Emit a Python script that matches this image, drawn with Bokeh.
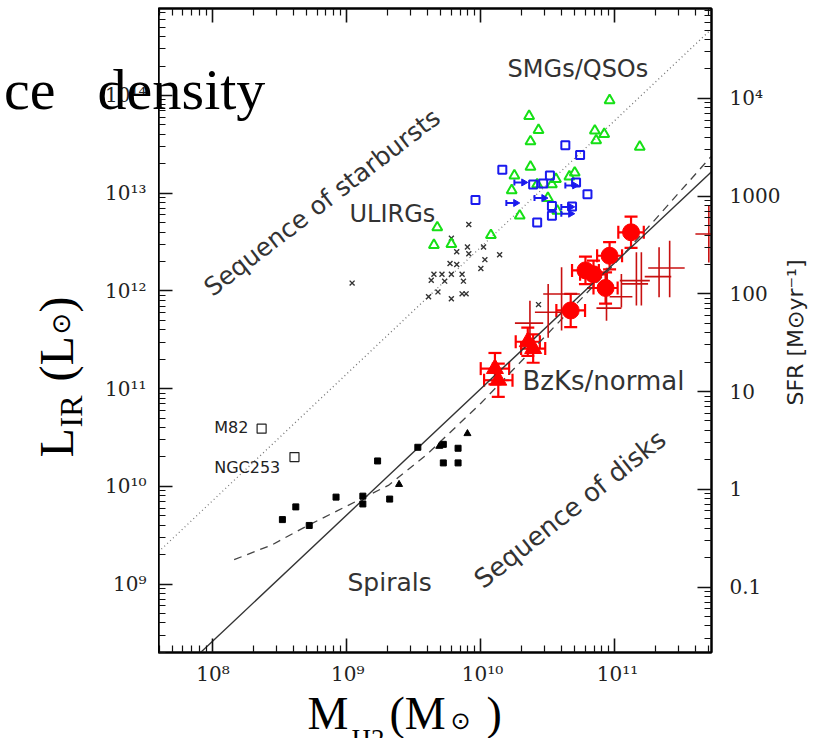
import numpy as np
from bokeh.plotting import figure
from bokeh.layouts import row, column
from bokeh.core.properties import value
from bokeh.models import (Range1d, LogAxis, LogScale, FixedTicker, CustomJSTickFormatter,
                          Label, Whisker, TeeHead, ColumnDataSource)
from bokeh.embed import file_html
from bokeh.resources import INLINE

# ---------------- data (log10 values) ----------------
# local spirals (filled black squares)
spiral_logm = [8.52, 8.62, 8.72, 8.92, 9.12, 9.12, 9.23, 9.32, 9.53, 9.72, 9.83, 9.72, 9.83]
spiral_logl = [9.66, 9.79, 9.60, 9.89, 9.90, 9.82, 10.26, 9.87, 10.40, 10.43, 10.39, 10.24, 10.24]
# small filled black triangles
spiral_tri_logm = [9.39, 9.69, 9.90]
spiral_tri_logl = [10.02, 10.41, 10.54]
# local starbursts (open squares)
sb_names = ["M82", "NGC253"]
sb_logm = [8.365, 8.61]
sb_logl = [10.59, 10.30]
# ULIRGs (crosses)
ulirg_logm = [9.04, 9.91, 9.78, 9.90, 10.02, 9.82, 9.91, 10.14, 10.03, 9.77, 9.82, 10.00, 9.65,
              9.71, 9.78, 9.86, 9.63, 9.73, 9.87, 9.68, 9.61, 9.78, 9.86, 9.89, 10.43]
ulirg_logl = [12.08, 12.68, 12.54, 12.45, 12.45, 12.40, 12.38, 12.37, 12.32, 12.28, 12.27, 12.23, 12.17,
              12.17, 12.17, 12.17, 12.11, 12.10, 12.10, 11.99, 11.94, 11.92, 11.97, 11.97, 11.86]
# SMGs (green open triangles)
smg_logm = [9.65, 9.675, 9.78, 10.075, 10.29, 10.57, 10.50, 10.23, 10.42, 10.53, 10.56, 10.66,
            10.70, 10.25, 10.37, 11.185, 10.86, 10.37, 10.92, 10.85, 10.43, 10.36, 10.96]
smg_logl = [12.47, 12.65, 12.48, 12.57, 12.77, 12.82, 12.95, 13.03, 13.09, 13.09, 13.145, 13.17,
            13.21, 13.18, 13.27, 13.475, 13.54, 13.53, 13.605, 13.64, 13.646, 13.79, 13.95]
# QSOs (blue open squares)
qso_logm = [10.63, 10.74, 10.16, 10.515, 10.39, 10.465, 10.71, 9.96, 10.795, 10.53, 10.68, 10.53, 10.42]
qso_logl = [13.49, 13.39, 13.24, 13.18, 13.09, 13.10, 13.11, 12.93, 12.99, 12.87, 12.865, 12.77, 12.70]
# QSO lower limits in M_H2 (blue arrows)
qlim_logm = [10.25, 10.40, 10.19, 10.63, 10.60, 10.60]
qlim_logl = [13.11, 12.95, 12.90, 13.08, 12.86, 12.79]
# BzK galaxies (red filled circles with errors)
bzk_logm = [11.12, 10.96, 10.78, 10.84, 10.93, 10.67]
bzk_logl = [12.60, 12.36, 12.21, 12.17, 12.03, 11.80]
bzk_xerr = [0.095, 0.093, 0.10, 0.10, 0.09, 0.107]
bzk_yerr = [0.16, 0.14, 0.14, 0.14, 0.16, 0.17]
# BzK (red filled triangles with errors)
bzt_logm = [10.35, 10.39, 10.105, 10.13]
bzt_logl = [11.48, 11.41, 11.205, 11.086]
bzt_xerr = [0.09, 0.09, 0.106, 0.106]
bzt_yerr = [0.145, 0.145, 0.16, 0.17]
# further z~1.5 galaxies (dark red error crosses, no symbol)
cr_logm = [11.70, 11.408, 11.329, 11.16, 11.197, 11.048, 10.937, 10.602, 10.502, 10.366]
cr_logl = [12.583, 12.235, 12.146, 12.105, 12.072, 11.94, 11.824, 11.969, 11.781, 11.67]
cr_xlo = [11.60, 11.248, 11.222, 11.036, 11.048, 10.96, 10.862, 10.465, 10.403, 10.254]
cr_xhi = [11.80, 11.52, 11.42, 11.26, 11.247, 11.13, 11.048, 10.738, 10.602, 10.465]
cr_ylo = [12.29, 11.935, 11.935, 11.85, 11.85, 11.83, 11.696, 11.596, 11.52, 11.52]
cr_yhi = [12.87, 12.514, 12.446, 12.395, 12.395, 12.174, 12.174, 12.241, 12.07, 11.90]
# relations
disk_logm = [7.91, 11.72]                      # solid line
disk_logl = [8.30, 13.22]
sbseq_logm = [7.596, 11.72]                    # dotted line
sbseq_logl = [9.33, 14.68]
fit_logm = [8.16, 8.44, 8.71, 9.06, 9.31, 9.60, 10.00, 10.49, 11.00, 11.28, 11.72]   # dashed
fit_logl = [9.25, 9.40, 9.60, 9.84, 10.01, 10.33, 10.85, 11.55, 12.28, 12.70, 13.38]

# axis ticks (exponents)
x_tick_exp = [8, 9, 10, 11]
y_tick_exp = [9, 10, 11, 12, 13, 14]
sfr_tick_exp = [-1, 0, 1, 2, 3, 4]

XLOG = (7.596, 11.72)
YLOG = (8.30, 14.89)
SFR_OFFSET = 9.97

W, H = 823, 738
FL, FR, FT, FB = 158, 714, 8, 652     # plot frame in page pixels
RIGHT_EDGE = 783                       # end of the main figure (right tick labels inside)
BOTTOM_EDGE = 660                      # end of the main row; x tick labels and title below


def E(a):
    return np.power(10.0, np.asarray(a, dtype=float))


def px2x(X):
    return 10 ** (XLOG[0] + (X - FL) / (FR - FL) * (XLOG[1] - XLOG[0]))


def px2y(Y):
    return 10 ** (YLOG[1] - (Y - FT) / (FB - FT) * (YLOG[1] - YLOG[0]))


SUP = {"0": "\u2070", "1": "\u00b9", "2": "\u00b2", "3": "\u00b3", "4": "\u2074", "5": "\u2075",
       "6": "\u2076", "7": "\u2077", "8": "\u2078", "9": "\u2079", "-": "\u207b"}


def pow_label(e):
    return "10" + "".join(SUP[c] for c in str(e))


x_range = Range1d(10 ** XLOG[0], 10 ** XLOG[1])
y_range = Range1d(10 ** YLOG[0], 10 ** YLOG[1])

p = figure(width=RIGHT_EDGE - FL, height=BOTTOM_EDGE, x_axis_type="log", y_axis_type="log",
           x_range=x_range, y_range=y_range,
           output_backend="svg", toolbar_location=None,
           min_border_left=0, min_border_right=RIGHT_EDGE - FR,
           min_border_top=FT, min_border_bottom=BOTTOM_EDGE - FB)
p.title.visible = False
p.xgrid.visible = False
p.ygrid.visible = False
p.outline_line_color = "black"
p.outline_line_width = 2
p.background_fill_color = "white"
p.border_fill_color = "white"

p.extra_y_ranges = {"sfr": Range1d(10 ** (YLOG[0] - SFR_OFFSET), 10 ** (YLOG[1] - SFR_OFFSET))}
p.extra_y_scales = {"sfr": LogScale()}

sfr_code = """
const e = Math.round(Math.log10(tick));
if (e >= 4) { return "10\u2074"; }
if (e >= 0) { return String(Math.round(tick)); }
return tick.toFixed(-e);
"""
blank_code = """return "";"""


def minors(exps):
    lo = min(exps) - 1
    hi = max(exps) + 1
    return [k * 10.0 ** e for e in range(lo, hi + 1) for k in range(2, 10)]


def style(ax, exps, fmt, size="19px", standoff=12):
    ax.ticker = FixedTicker(ticks=[10.0 ** e for e in exps], minor_ticks=minors(exps))
    ax.formatter = CustomJSTickFormatter(code=fmt)
    ax.major_tick_in = 14
    ax.major_tick_out = 0
    ax.minor_tick_in = 7
    ax.minor_tick_out = 0
    ax.major_tick_line_width = 1.6
    ax.minor_tick_line_width = 1.2
    ax.major_tick_line_color = "#111"
    ax.minor_tick_line_color = "#111"
    ax.axis_line_width = 2
    ax.axis_line_color = "black"
    ax.major_label_text_font = "DejaVu Serif"
    ax.major_label_text_color = "#222"
    ax.major_label_standoff = standoff
    ax.major_label_text_font_size = size


style(p.xaxis[0], x_tick_exp + [7], blank_code, "4px", 0)
style(p.yaxis[0], y_tick_exp + [8], blank_code, "4px", 0)

top = LogAxis()
style(top, x_tick_exp + [7], blank_code, "4px", 0)
p.add_layout(top, "above")

right = LogAxis(y_range_name="sfr")
style(right, sfr_tick_exp, sfr_code, "20px", 18)
p.add_layout(right, "right")

# ---------------- relations ----------------
p.line(E(sbseq_logm), E(sbseq_logl), line_color="#777", line_width=1.3, line_dash="1 3")
p.line(E(disk_logm), E(disk_logl), line_color="#333", line_width=1.4)
p.line(E(fit_logm), E(fit_logl), line_color="#444", line_width=1.3, line_dash="8 6")

# ---------------- local galaxies ----------------
p.scatter(E(spiral_logm), E(spiral_logl), marker="square", size=6, color="black")
p.scatter(E(spiral_tri_logm), E(spiral_tri_logl), marker="triangle", size=7, color="black")
p.scatter(E(sb_logm), E(sb_logl), marker="square", size=9, fill_color=None,
          line_color="#222", line_width=1.2)
p.scatter(E(ulirg_logm), E(ulirg_logl), marker="x", size=7, line_color="#333", line_width=1.4)

# ---------------- SMGs / QSOs ----------------
p.scatter(E(smg_logm), E(smg_logl), marker="triangle", size=10, fill_color=None,
          line_color="#16e016", line_width=2)
p.scatter(E(qso_logm), E(qso_logl), marker="square", size=8, fill_color=None,
          line_color="#1a1aee", line_width=2)
qlm = np.asarray(qlim_logm)
p.segment(E(qlm), E(qlim_logl), E(qlm + 0.055), E(qlim_logl), line_color="#1a1aee", line_width=2)
p.scatter(E(qlm), E(qlim_logl), marker="dash", angle=np.pi / 2, size=6,
          line_color="#1a1aee", line_width=2)
p.scatter(E(qlm + 0.07), E(qlim_logl), marker="triangle", angle=-np.pi / 2, size=7,
          color="#1a1aee")

# ---------------- z~1.5 galaxies ----------------
crm = np.asarray(cr_logm)
crl = np.asarray(cr_logl)
p.segment(E(cr_xlo), E(crl), E(cr_xhi), E(crl), line_color="#c81010", line_width=1.6)
p.segment(E(crm), E(cr_ylo), E(crm), E(cr_yhi), line_color="#c81010", line_width=1.6)


def err_block(lm, ll, xe, ye, marker, size):
    lm = np.asarray(lm)
    ll = np.asarray(ll)
    xe = np.asarray(xe)
    ye = np.asarray(ye)
    src = ColumnDataSource(dict(x=E(lm), y=E(ll), xl=E(lm - xe), xu=E(lm + xe),
                                yl=E(ll - ye), yu=E(ll + ye)))
    for dim, base, lo, up in (("height", "x", "yl", "yu"), ("width", "y", "xl", "xu")):
        w = Whisker(source=src, base=base, lower=lo, upper=up, dimension=dim,
                    line_color="red", line_width=2.2,
                    upper_head=TeeHead(size=13, line_color="red", line_width=2.2),
                    lower_head=TeeHead(size=13, line_color="red", line_width=2.2))
        p.add_layout(w)
    p.scatter("x", "y", source=src, marker=marker, size=size, color="red")


err_block(bzk_logm, bzk_logl, bzk_xerr, bzk_yerr, "circle", 17)
err_block(bzt_logm, bzt_logl, bzt_xerr, bzt_yerr, "triangle", 17)

TXT = "#333333"
SERIF = "Liberation Serif"
R90 = np.pi / 2


def lab(fig, text, x, y, size, angle=0.0, font="DejaVu Sans", color=TXT, align="left",
        baseline="alphabetic"):
    fig.add_layout(Label(x=x, y=y, text=text, text_font=font,
                         text_font_size=size, text_color=color, angle=float(angle),
                         text_align=align, text_baseline=baseline))


# ---------------- in-plot labels ----------------
def plab(text, X, Y, size, **kw):
    lab(p, text, px2x(X), px2y(Y), size, **kw)


plab("SMGs/QSOs", 509, 68, "24px")
plab("ULIRGs", 350, 213, "24px")
plab("Sequence of starbursts", 207, 290, "25px", angle=np.deg2rad(37.5))
plab("BzKs/normal", 524, 380, "26px")
plab("Spirals", 348, 582, "25px")
plab("Sequence of disks", 479, 582, "26px", angle=np.deg2rad(38.5))
plab(sb_names[0], 214, 427, "16px", color="#222")
plab(sb_names[1], 214, 467, "16px", color="#222")
# overlapping slide text (part that lies on the frame)
plab("ce", 55, 89, "58px", font=SERIF, color="black", align="right")
plab("density", 97, 89, "58px", font=SERIF, color="black")


def blank_fig(w, h, xr, yr, x_log=False, y_log=False, **b):
    f = figure(width=w, height=h, x_range=xr, y_range=yr,
               x_axis_type="log" if x_log else "linear",
               y_axis_type="log" if y_log else "linear",
               output_backend="svg", toolbar_location=None,
               x_axis_location=None, y_axis_location=None,
               min_border_left=b.get("left", 0), min_border_right=b.get("right", 0),
               min_border_top=b.get("top", 0), min_border_bottom=b.get("bottom", 0))
    f.title.visible = False
    f.xgrid.visible = False
    f.ygrid.visible = False
    f.outline_line_color = None
    f.background_fill_color = "white"
    f.border_fill_color = "white"
    return f


# ---------------- left strip: y tick labels, y title, slide text ----------------
left = blank_fig(FL, BOTTOM_EDGE, Range1d(0, FL), y_range, y_log=True,
                 top=FT, bottom=BOTTOM_EDGE - FB)
left.text(x=[FL - 12] * len(y_tick_exp), y=[10.0 ** e for e in y_tick_exp],
          text=[pow_label(e) for e in y_tick_exp], text_align="right", text_baseline="middle",
          text_font=value("DejaVu Serif"), text_font_size=value("20px"), text_color="#222")
lab(left, "L", 56, px2y(457), "48px", angle=R90, font=SERIF, color="black")
lab(left, "IR", 70, px2y(427), "32px", angle=R90, font=SERIF, color="black")
lab(left, "(L", 56, px2y(381), "48px", angle=R90, font=SERIF, color="black")
lab(left, "\u2299", 60, px2y(334), "26px", angle=R90, font="DejaVu Sans", color="black",
    baseline="middle")
lab(left, ")", 56, px2y(312), "48px", angle=R90, font=SERIF, color="black")
lab(left, "ce", 55, px2y(89), "58px", font=SERIF, color="black", align="right")
lab(left, "density", 97, px2y(89), "58px", font=SERIF, color="black")

# ---------------- right strip: SFR title (same vertical layout as the plot) ----------------
rstrip = blank_fig(W - RIGHT_EDGE, BOTTOM_EDGE, Range1d(RIGHT_EDGE, W), y_range, y_log=True,
                   top=FT, bottom=BOTTOM_EDGE - FB)
lab(rstrip, "SFR [M\u2299yr\u207b\u00b9]", 795, px2y(405), "22px", angle=R90,
    font="DejaVu Sans", color="#222", baseline="middle")

# ---------------- bottom strip: x tick labels and x title (y = px above page bottom) -------
BH = H - BOTTOM_EDGE
bstrip = blank_fig(W, BH, Range1d(px2x(0), px2x(W)), Range1d(0, BH), x_log=True)
bstrip.text(x=[10.0 ** e for e in x_tick_exp], y=[H - 673] * len(x_tick_exp),
            text=[pow_label(e) for e in x_tick_exp], text_align="center", text_baseline="middle",
            text_font=value("DejaVu Serif"), text_font_size=value("20px"), text_color="#222")
lab(bstrip, "M", px2x(307), H - 713, "46px", font=SERIF, color="black")
lab(bstrip, "H2", px2x(351), H - 738, "27px", font=SERIF, color="black")
lab(bstrip, "(M", px2x(389), H - 713, "46px", font=SERIF, color="black")
lab(bstrip, "\u2299", px2x(450), H - 720, "24px", font="DejaVu Sans", color="black",
    baseline="middle")
lab(bstrip, ")", px2x(486), H - 713, "46px", font=SERIF, color="black")

layout = column(row(left, p, rstrip, spacing=0), bstrip, spacing=0)
open("out.html", "w").write(file_html(layout, INLINE))
